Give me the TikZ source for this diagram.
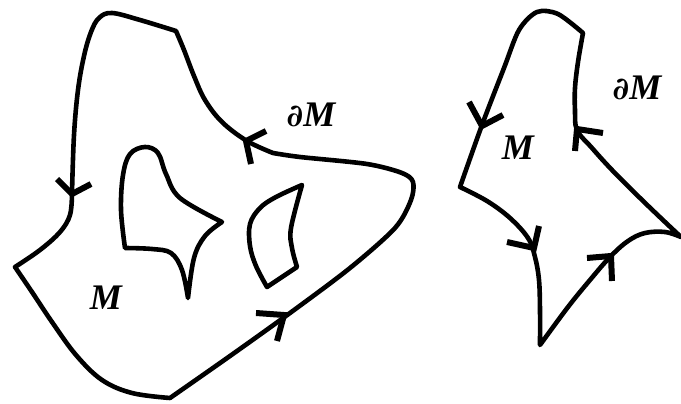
\documentclass[tikz,border=0pt]{standalone}
\usepackage{fontspec}
\newfontfamily\lblfont{Liberation Serif}
\newfontfamily\dfont{DejaVu Serif}
\newcommand{\bdel}{{\dfont\fontsize{31}{31}\selectfont\bfseries\itshape ∂}}
\begin{document}
\begin{tikzpicture}[x=1pt,y=-1pt,
  curve/.style={line width=4.6pt,line join=round,line cap=round},
  chevron/.style={line width=6pt,line join=miter,line cap=butt},
  lbl/.style={inner sep=0pt,font=\lblfont\fontsize{36}{36}\selectfont\bfseries\itshape}]
\useasboundingbox (0,0) rectangle (681,404);
% left region, outer boundary
\draw[curve] plot[smooth,tension=0.5] coordinates {(170,398) (230,356) (290,313) (350,268) (395,228) (411,200) (413,182) (402,173) (367,164) (300,157) (273,153)}
  -- plot[smooth,tension=0.6] coordinates {(273,153) (247,141) (222,122) (205,100) (194,76) (184,50) (176,31)}
  -- plot[smooth,tension=0.6] coordinates {(176,31) (140,20) (112,13) (99,18) (91,32) (84,56) (78,90) (74,135) (72,193)}
  -- plot[smooth,tension=0.6] coordinates {(72,193) (70,215) (60,232) (40,250) (15,267)}
  -- plot[smooth,tension=0.6] coordinates {(15,267) (32,292) (52,322) (76,355) (102,380) (132,393) (170,398)} -- cycle;
% holes
\draw[curve] plot[smooth,tension=0.6] coordinates {(125,248) (121,210) (123,175) (130,154) (145,147) (158,153) (166,174) (180,198) (222,222)}
  -- plot[smooth,tension=0.6] coordinates {(222,222) (205,236) (194,258) (188,298)}
  -- plot[smooth,tension=0.6] coordinates {(188,298) (182,270) (171,253) (152,249) (125,248)} -- cycle;
\draw[curve] plot[smooth,tension=0.6] coordinates {(302,185) (276,197) (260,208) (250,224) (250,246) (256,266) (267,287)}
  -- (297,267)
  -- plot[smooth,tension=0.6] coordinates {(297,267) (292,248) (291,228) (302,185)} -- cycle;
% right region
\draw[curve] plot[smooth,tension=0.5] coordinates {(460,187) (482,125) (504,68) (519,30) (537,12) (558,14) (583,33)}
  -- plot[smooth,tension=0.6] coordinates {(583,33) (578,62) (575,88) (575,110) (577,130) (592,148) (612,170) (640,198) (665,222) (681,237)}
  -- plot[smooth,tension=0.6] coordinates {(681,237) (665,232) (645,233) (628,241) (610,257) (590,280) (568,307) (540,345)}
  -- plot[smooth,tension=0.6] coordinates {(540,345) (540,310) (539,280) (535,257) (528,238) (510,218) (487,201) (460,187)} -- cycle;
% arrowheads
\draw[chevron] (57,179) -- (72,194) -- (91,184);
\draw[chevron] (266,131) -- (246,141) -- (251,164);
\draw[chevron] (256,313) -- (284,315) -- (277,341);
\draw[chevron] (469,102) -- (482,126) -- (503,115);
\draw[chevron] (507,242) -- (534,248) -- (539,226);
\draw[chevron] (587,258) -- (611,256) -- (612,281);
\draw[chevron] (603,133) -- (577,129) -- (575,151);
% labels
\node[lbl] (dM1) at (311,115) {\bdel M};
\node[lbl] (M1) at (106,298) {M};
\node[lbl] (dM2) at (637,88) {\bdel M};
\node[lbl] (M2) at (518,148) {M};
\end{tikzpicture}
\end{document}
